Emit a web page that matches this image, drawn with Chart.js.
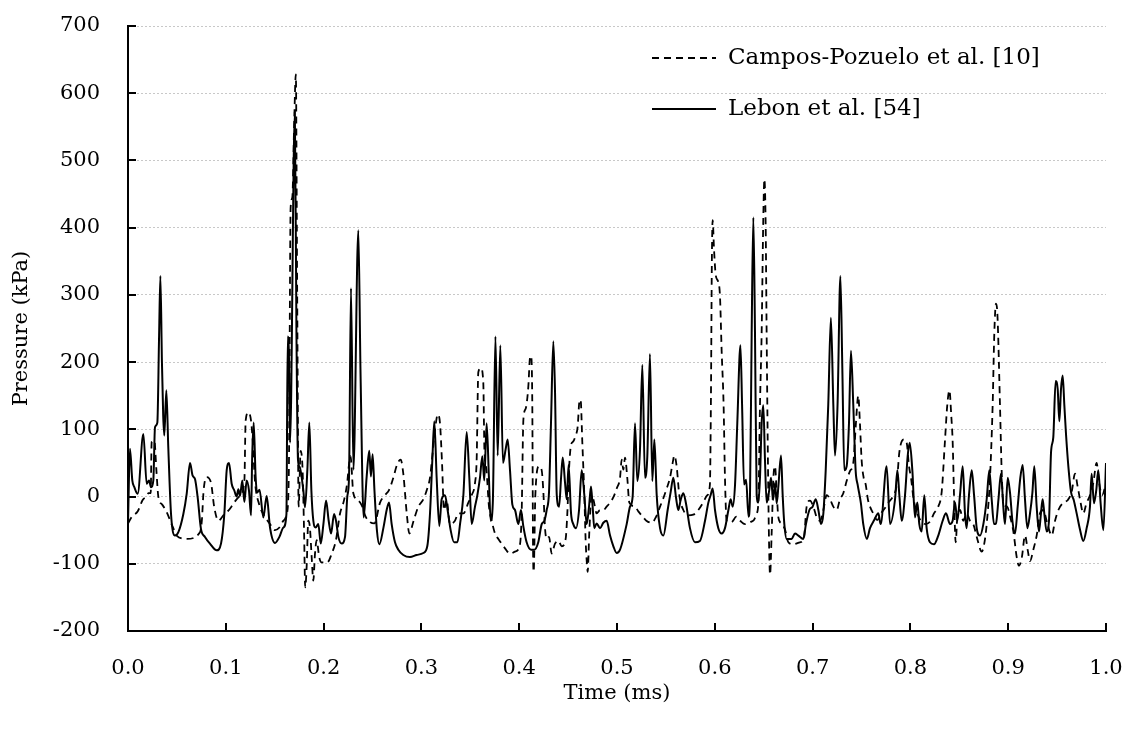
<!DOCTYPE html>
<html>
<head>
<meta charset="utf-8">
<script src="https://cdn.jsdelivr.net/npm/chart.js@4.4.1/dist/chart.umd.min.js"></script>
<style>
  html, body { margin: 0; padding: 0; background: #fff; }
  canvas { display: block; }
</style>
</head>
<body>
<canvas id="chart" width="1128" height="729"></canvas>
<script>
// time in ms, pressure in kPa
const camposTime = [
  0.0000,0.0040,0.0100,0.0150,0.0190,0.0210,0.0232,0.0242,0.0270,0.0290,
  0.0310,0.0350,0.0395,0.0460,0.0497,0.0600,0.0736,0.0755,0.0773,0.0804,
  0.0848,0.0882,0.0924,0.0975,0.1026,0.1067,0.1100,0.1145,0.1190,0.1203,
  0.1230,0.1258,0.1275,0.1300,0.1340,0.1400,0.1452,0.1503,0.1548,0.1589,
  0.1623,0.1645,0.1663,0.1680,0.1700,0.1716,0.1730,0.1745,0.1765,0.1785,
  0.1800,0.1812,0.1828,0.1843,0.1860,0.1878,0.1895,0.1912,0.1929,0.1955,
  0.1979,0.2038,0.2083,0.2126,0.2167,0.2208,0.2240,0.2260,0.2275,0.2304,
  0.2355,0.2390,0.2430,0.2475,0.2520,0.2577,0.2628,0.2670,0.2713,0.2750,
  0.2788,0.2815,0.2850,0.2877,0.2920,0.2969,0.3020,0.3060,0.3088,0.3108,
  0.3140,0.3167,0.3190,0.3211,0.3231,0.3258,0.3292,0.3343,0.3377,0.3430,
  0.3480,0.3514,0.3548,0.3565,0.3582,0.3609,0.3633,0.3644,0.3665,0.3691,
  0.3719,0.3753,0.3787,0.3855,0.3906,0.3957,0.4008,0.4025,0.4043,0.4067,
  0.4093,0.4110,0.4121,0.4134,0.4141,0.4148,0.4165,0.4203,0.4230,0.4247,
  0.4264,0.4281,0.4305,0.4332,0.4366,0.4401,0.4435,0.4475,0.4492,0.4509,
  0.4530,0.4553,0.4575,0.4598,0.4615,0.4628,0.4645,0.4666,0.4680,0.4693,
  0.4700,0.4717,0.4741,0.4760,0.4792,0.4826,0.4860,0.4894,0.4929,0.4963,
  0.4997,0.5031,0.5048,0.5065,0.5082,0.5105,0.5126,0.5184,0.5218,0.5269,
  0.5300,0.5354,0.5400,0.5440,0.5480,0.5508,0.5542,0.5569,0.5586,0.5610,
  0.5637,0.5678,0.5729,0.5780,0.5831,0.5880,0.5923,0.5950,0.5960,0.5970,
  0.5978,0.5992,0.6009,0.6036,0.6053,0.6070,0.6090,0.6104,0.6121,0.6170,
  0.6220,0.6260,0.6309,0.6360,0.6400,0.6428,0.6445,0.6462,0.6479,0.6496,
  0.6507,0.6520,0.6530,0.6541,0.6554,0.6565,0.6582,0.6599,0.6616,0.6633,
  0.6650,0.6680,0.6718,0.6752,0.6803,0.6871,0.6910,0.6939,0.6973,0.7008,
  0.7042,0.7076,0.7110,0.7144,0.7178,0.7212,0.7246,0.7280,0.7314,0.7348,
  0.7382,0.7416,0.7443,0.7467,0.7484,0.7501,0.7522,0.7543,0.7565,0.7587,
  0.7620,0.7660,0.7700,0.7740,0.7775,0.7820,0.7860,0.7887,0.7934,0.7962,
  0.7986,0.8006,0.8033,0.8071,0.8105,0.8156,0.8207,0.8241,0.8285,0.8320,
  0.8353,0.8377,0.8399,0.8418,0.8432,0.8446,0.8463,0.8480,0.8507,0.8541,
  0.8575,0.8609,0.8643,0.8684,0.8729,0.8763,0.8790,0.8814,0.8841,0.8858,
  0.8875,0.8890,0.8916,0.8933,0.8950,0.8990,0.9020,0.9053,0.9087,0.9110,
  0.9140,0.9172,0.9200,0.9223,0.9257,0.9291,0.9325,0.9359,0.9400,0.9445,
  0.9479,0.9513,0.9564,0.9610,0.9649,0.9683,0.9710,0.9734,0.9768,0.9800,
  0.9836,0.9870,0.9904,0.9930,0.9960,1.0000
];
const camposKPa = [
  -40,-30,-22,-5,0,5,5,81,83,40,
  0,-12,-23,-46,-58,-63,-53,-36,9,29,
  21,-16,-36,-28,-21,-13,-6,1,24,113,
  125,113,83,20,-11,-30,-41,-50,-46,-36,
  -26,40,430,445,560,628,300,-15,68,40,
  -50,-135,-100,-36,-46,-90,-125,-85,-65,-90,
  -98,-98,-85,-65,-26,-6,19,48,60,5,
  -6,-13,-30,-38,-40,-9,2,10,28,47,
  55,34,-25,-55,-36,-15,-4,12,28,55,
  100,122,109,50,-20,-5,-41,-36,-25,-25,
  -9,2,20,55,185,191,169,71,40,-15,
  -36,-55,-63,-77,-85,-82,-71,-25,115,131,
  163,206,209,136,-68,-112,2,45,39,7,
  -47,-63,-60,-85,-70,-66,-74,-63,-25,39,
  77,82,90,104,141,144,82,2,-68,-101,
  -112,-52,2,-5,-25,-20,-20,-15,-9,-1,
  12,28,55,40,58,28,-9,-15,-22,-31,
  -36,-39,-30,-15,0,12,28,50,61,45,
  2,-20,-28,-27,-20,-9,2,18,136,351,
  411,368,330,319,298,217,136,28,-36,-38,
  -30,-36,-41,-38,-35,-25,-10,136,243,415,
  472,405,243,82,-63,-116,-52,28,45,5,
  -31,-40,-49,-68,-71,-68,-63,-15,-6,-15,
  -31,-36,-20,2,-4,-15,-20,-4,5,23,
  38,50,109,150,109,55,28,18,-4,-15,
  -25,-35,-25,-17,-9,0,18,66,85,80,
  45,28,-4,-25,-36,-41,-36,-25,-15,7,
  82,136,158,120,82,2,-68,-30,-20,-36,
  -25,-36,-41,-63,-82,-63,-25,28,136,243,
  287,270,136,39,-9,-15,-30,-52,-90,-103,
  -90,-58,-80,-96,-79,-58,-25,-20,-40,-58,
  -36,-20,-9,-5,7,34,15,-4,-25,-10,
  2,20,50,20,2,20
];
const lebonTime = [
  0.0000,0.0020,0.0044,0.0065,0.0099,0.0157,0.0191,0.0215,0.0235,0.0259,
  0.0276,0.0300,0.0318,0.0331,0.0347,0.0360,0.0371,0.0392,0.0412,0.0440,
  0.0480,0.0515,0.0566,0.0600,0.0634,0.0661,0.0685,0.0712,0.0746,0.0787,
  0.0838,0.0907,0.0951,0.0985,0.1009,0.1033,0.1060,0.1087,0.1111,0.1128,
  0.1145,0.1169,0.1190,0.1213,0.1237,0.1258,0.1270,0.1285,0.1305,0.1320,
  0.1345,0.1384,0.1418,0.1452,0.1503,0.1548,0.1589,0.1620,0.1633,0.1645,
  0.1657,0.1706,0.1722,0.1738,0.1755,0.1793,0.1810,0.1834,0.1854,0.1875,
  0.1895,0.1919,0.1946,0.1971,0.1998,0.2025,0.2052,0.2076,0.2107,0.2127,
  0.2151,0.2185,0.2219,0.2243,0.2260,0.2280,0.2305,0.2355,0.2378,0.2410,
  0.2440,0.2467,0.2484,0.2501,0.2520,0.2545,0.2570,0.2611,0.2645,0.2669,
  0.2696,0.2730,0.2764,0.2815,0.2883,0.2951,0.3020,0.3060,0.3088,0.3112,
  0.3132,0.3156,0.3183,0.3207,0.3241,0.3268,0.3299,0.3334,0.3368,0.3395,
  0.3429,0.3463,0.3490,0.3514,0.3548,0.3572,0.3599,0.3623,0.3643,0.3667,
  0.3690,0.3708,0.3730,0.3757,0.3780,0.3807,0.3834,0.3862,0.3882,0.3906,
  0.3930,0.3957,0.3991,0.4018,0.4042,0.4076,0.4121,0.4155,0.4195,0.4230,
  0.4257,0.4281,0.4305,0.4325,0.4349,0.4366,0.4384,0.4408,0.4428,0.4445,
  0.4469,0.4486,0.4505,0.4530,0.4553,0.4581,0.4612,0.4639,0.4666,0.4690,
  0.4714,0.4734,0.4751,0.4768,0.4792,0.4826,0.4860,0.4894,0.4929,0.4963,
  0.4997,0.5031,0.5099,0.5133,0.5160,0.5184,0.5208,0.5235,0.5259,0.5286,
  0.5310,0.5337,0.5361,0.5382,0.5406,0.5440,0.5474,0.5518,0.5549,0.5576,
  0.5603,0.5627,0.5651,0.5678,0.5705,0.5746,0.5797,0.5848,0.5900,0.5934,
  0.5957,0.5978,0.6002,0.6036,0.6070,0.6104,0.6139,0.6162,0.6183,0.6207,
  0.6230,0.6262,0.6279,0.6299,0.6320,0.6345,0.6360,0.6377,0.6394,0.6411,
  0.6428,0.6445,0.6462,0.6479,0.6496,0.6513,0.6530,0.6554,0.6575,0.6596,
  0.6616,0.6633,0.6650,0.6677,0.6694,0.6711,0.6735,0.6786,0.6820,0.6854,
  0.6905,0.6932,0.6967,0.7000,0.7032,0.7059,0.7086,0.7110,0.7134,0.7160,
  0.7187,0.7212,0.7229,0.7255,0.7284,0.7304,0.7324,0.7348,0.7372,0.7392,
  0.7416,0.7440,0.7460,0.7494,0.7518,0.7555,0.7587,0.7630,0.7672,0.7696,
  0.7757,0.7792,0.7843,0.7867,0.7887,0.7911,0.7945,0.7972,0.7993,0.8020,
  0.8047,0.8071,0.8091,0.8115,0.8142,0.8166,0.8200,0.8241,0.8285,0.8330,
  0.8364,0.8405,0.8432,0.8456,0.8480,0.8507,0.8535,0.8558,0.8575,0.8599,
  0.8627,0.8651,0.8678,0.8712,0.8746,0.8780,0.8807,0.8831,0.8855,0.8875,
  0.8900,0.8926,0.8950,0.8967,0.8995,0.9019,0.9043,0.9070,0.9097,0.9124,
  0.9148,0.9172,0.9196,0.9223,0.9247,0.9267,0.9291,0.9315,0.9335,0.9352,
  0.9369,0.9393,0.9417,0.9438,0.9461,0.9485,0.9506,0.9523,0.9540,0.9557,
  0.9574,0.9591,0.9615,0.9642,0.9670,0.9700,0.9734,0.9768,0.9802,0.9836,
  0.9853,0.9877,0.9901,0.9921,0.9945,0.9973,1.0000
];
const lebonKPa = [
  -40,71,24,14,4,93,19,24,14,24,
  103,110,240,328,200,120,91,158,73,-26,
  -58,-53,-26,4,50,31,26,-1,-48,-60,
  -70,-80,-70,-26,39,50,19,9,0,11,
  1,24,-8,24,9,-28,60,110,29,6,
  10,-31,1,-46,-69,-60,-46,-26,238,215,
  80,572,250,55,44,9,-16,40,110,9,
  -36,-46,-41,-70,-41,-6,-36,-55,-26,-36,
  -60,-70,-60,1,29,310,40,396,180,-31,
  29,68,30,63,9,-50,-71,-47,-20,-9,
  -41,-68,-79,-87,-90,-87,-84,-74,-25,55,
  112,28,-44,-4,2,-20,-50,-68,-68,-41,
  2,96,28,-41,-15,2,28,60,24,109,
  30,-36,-10,238,61,225,50,71,85,39,
  -12,-20,-41,-20,-44,-68,-79,-79,-68,-41,
  -36,-20,7,109,231,158,2,-15,28,58,
  20,-4,47,-25,-41,-47,-20,39,2,-41,
  -15,15,-15,-47,-40,-47,-39,-36,-58,-74,
  -84,-79,-41,-15,0,109,23,70,196,28,
  60,212,23,85,2,-47,-58,-20,7,28,
  -1,-20,-5,5,-10,-47,-68,-66,-36,-9,
  2,12,-20,-47,-55,-47,-20,-4,-15,18,
  109,225,136,18,25,-30,2,243,415,243,
  2,-9,28,109,136,55,-9,7,28,-5,
  20,-10,15,61,2,-41,-63,-63,-55,-58,
  -63,-41,-20,-15,-4,-20,-41,-25,39,136,
  266,136,61,136,328,191,39,45,109,217,
  136,39,18,-10,-41,-63,-47,-35,-25,-41,
  45,-41,-4,39,2,-36,2,60,80,39,
  -31,-9,-41,-52,2,-47,-68,-71,-58,-36,
  -25,-41,-36,-9,-36,2,45,-25,-47,2,
  39,2,-47,-58,-41,-4,39,-4,-41,-40,
  -5,34,-15,-41,28,5,-36,-55,-15,28,
  47,-5,-47,-25,5,45,-15,-52,-25,-4,
  -25,-52,-36,66,88,172,160,112,160,180,
  136,93,45,7,-5,-25,-49,-66,-47,-15,
  34,-10,10,39,-10,-50,50
];
const xTicks = [0, 0.1, 0.2, 0.3, 0.4, 0.5, 0.6, 0.7, 0.8, 0.9, 1.0];
const yTicks = [-200, -100, 0, 100, 200, 300, 400, 500, 600, 700];
const seriesNames = ['Campos-Pozuelo et al. [10]', 'Lebon et al. [54]'];

const toPoints = (ts, ps) => ts.map((t, i) => ({ x: t, y: ps[i] }));
const serif = { family: 'DejaVu Serif', size: 21 };
const dash = [7, 5];

// ticks point into the plot, legend sits top right inside the frame
const frameExtras = {
  id: 'frameExtras',
  afterDraw(chart) {
    const { ctx, chartArea: a, scales: { x, y } } = chart;
    ctx.save();
    ctx.strokeStyle = '#000';
    ctx.lineWidth = 2;
    ctx.beginPath();
    yTicks.forEach(v => {
      const py = Math.round(y.getPixelForValue(v));
      ctx.moveTo(a.left, py);
      ctx.lineTo(a.left + 8, py);
    });
    xTicks.forEach(v => {
      const px = Math.round(x.getPixelForValue(v));
      ctx.moveTo(px, a.bottom);
      ctx.lineTo(px, a.bottom - 8);
    });
    ctx.stroke();

    const rows = [58, 109];
    ctx.font = '23px "DejaVu Serif"';
    ctx.fillStyle = '#000';
    ctx.textBaseline = 'middle';
    rows.forEach((ry, i) => {
      ctx.beginPath();
      ctx.lineWidth = 2;
      ctx.setLineDash(i === 0 ? dash : []);
      ctx.moveTo(652, ry);
      ctx.lineTo(716, ry);
      ctx.stroke();
      ctx.setLineDash([]);
      ctx.fillText(seriesNames[i], 728, ry);
    });
    ctx.restore();
  }
};

new Chart(document.getElementById('chart'), {
  type: 'line',
  data: {
    datasets: [
      {
        label: seriesNames[0],
        data: toPoints(camposTime, camposKPa),
        borderColor: '#000',
        borderWidth: 1.8,
        borderDash: dash,
        pointRadius: 0,
        cubicInterpolationMode: 'monotone',
        fill: false
      },
      {
        label: seriesNames[1],
        data: toPoints(lebonTime, lebonKPa),
        borderColor: '#000',
        borderWidth: 2,
        pointRadius: 0,
        cubicInterpolationMode: 'monotone',
        fill: false
      }
    ]
  },
  options: {
    responsive: false,
    animation: false,
    layout: { padding: { top: 26, right: 22, left: 0, bottom: 0 } },
    plugins: { legend: { display: false }, tooltip: { enabled: false } },
    scales: {
      x: {
        type: 'linear',
        min: 0,
        max: 1,
        afterBuildTicks: s => { s.ticks = xTicks.map(v => ({ value: v })); },
        ticks: { font: serif, color: '#000', padding: 25, maxRotation: 0, autoSkip: false,
                 callback: v => v.toFixed(1) },
        grid: { display: false, drawTicks: false },
        border: { color: '#000', width: 2 },
        title: { display: true, text: 'Time (ms)', font: serif, color: '#000',
                 padding: { top: 0, bottom: 23 } },
        afterFit: s => {
          s.height = 98;
          s.paddingLeft = 0;
          s.paddingRight = 0;
        }
      },
      y: {
        min: -200,
        max: 700,
        afterBuildTicks: s => { s.ticks = yTicks.map(v => ({ value: v })); },
        ticks: { font: serif, color: '#000', padding: 28 },
        grid: { color: '#c8c8c8', lineWidth: 1, drawTicks: false },
        border: { color: '#000', width: 2, dash: [2, 2] },
        title: { display: true, text: 'Pressure (kPa)', font: serif, color: '#000',
                 padding: { top: 9, bottom: 0 } },
        afterFit: s => {
          s.width = 128;
          s.paddingTop = 0;
          s.paddingBottom = 0;
        }
      }
    }
  },
  plugins: [frameExtras]
});
</script>
</body>
</html>
